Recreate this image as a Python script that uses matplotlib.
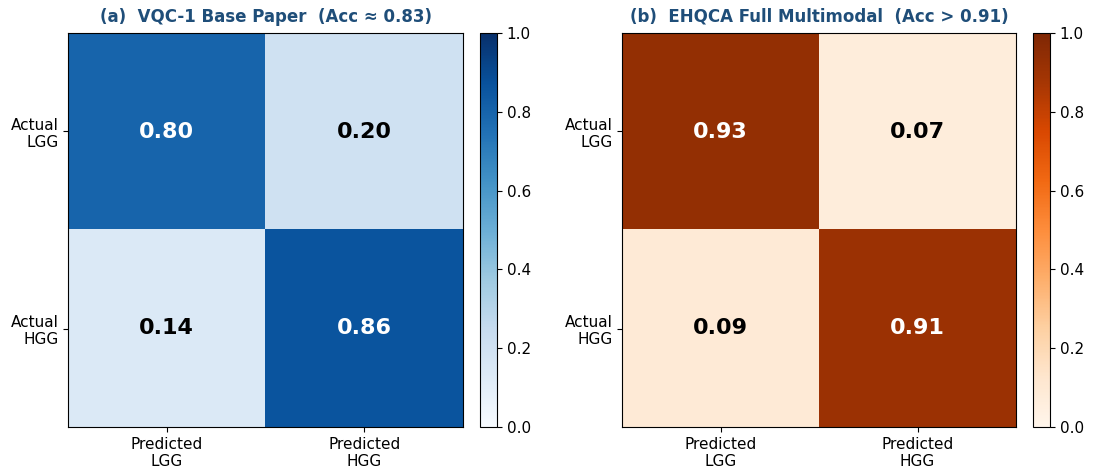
import numpy as np
import matplotlib
matplotlib.use("Agg")
import matplotlib.pyplot as plt

# confusion matrices (row-normalised)
row_labels = ["Actual\nLGG", "Actual\nHGG"]
col_labels = ["Predicted\nLGG", "Predicted\nHGG"]
cm_vqc = [[0.80, 0.20], [0.14, 0.86]]
cm_ehqca = [[0.93, 0.07], [0.09, 0.91]]
titles = ["(a)  VQC-1 Base Paper  (Acc \u2248 0.83)",
          "(b)  EHQCA Full Multimodal  (Acc > 0.91)"]
cmaps = ["Blues", "Oranges"]

W, H = 1094, 473
fig = plt.figure(figsize=(W / 100, H / 100), dpi=100)

# pixel boxes: (left, top, right, bottom)
ax_boxes = [(68, 33, 463, 427), (622, 33, 1016, 427)]
cb_boxes = [(480, 33, 497, 427), (1033, 33, 1050, 427)]


def to_fig(box):
    l, t, r, b = box
    return [l / W, 1 - b / H, (r - l) / W, (b - t) / H]


for cm, title, cmap, axb, cbb in zip([cm_vqc, cm_ehqca], titles, cmaps, ax_boxes, cb_boxes):
    ax = fig.add_axes(to_fig(axb))
    cax = fig.add_axes(to_fig(cbb))
    data = np.array(cm)
    im = ax.imshow(data, cmap=cmap, vmin=0, vmax=1, aspect="auto")
    for i in range(data.shape[0]):
        for j in range(data.shape[1]):
            v = data[i, j]
            ax.text(j, i, f"{v:.2f}", ha="center", va="center", fontsize=16,
                    fontweight="bold", color="white" if v > 0.5 else "black")
    ax.set_xticks(range(len(col_labels)))
    ax.set_xticklabels(col_labels, fontsize=11)
    ax.set_yticks(range(len(row_labels)))
    ax.set_yticklabels(row_labels, fontsize=11, ha="right")
    ax.set_title(title, fontsize=12, fontweight="bold", color="#1F4E79", pad=8)
    cb = fig.colorbar(im, cax=cax)
    cb.ax.tick_params(labelsize=11)

fig.savefig("out.png", dpi=100)
